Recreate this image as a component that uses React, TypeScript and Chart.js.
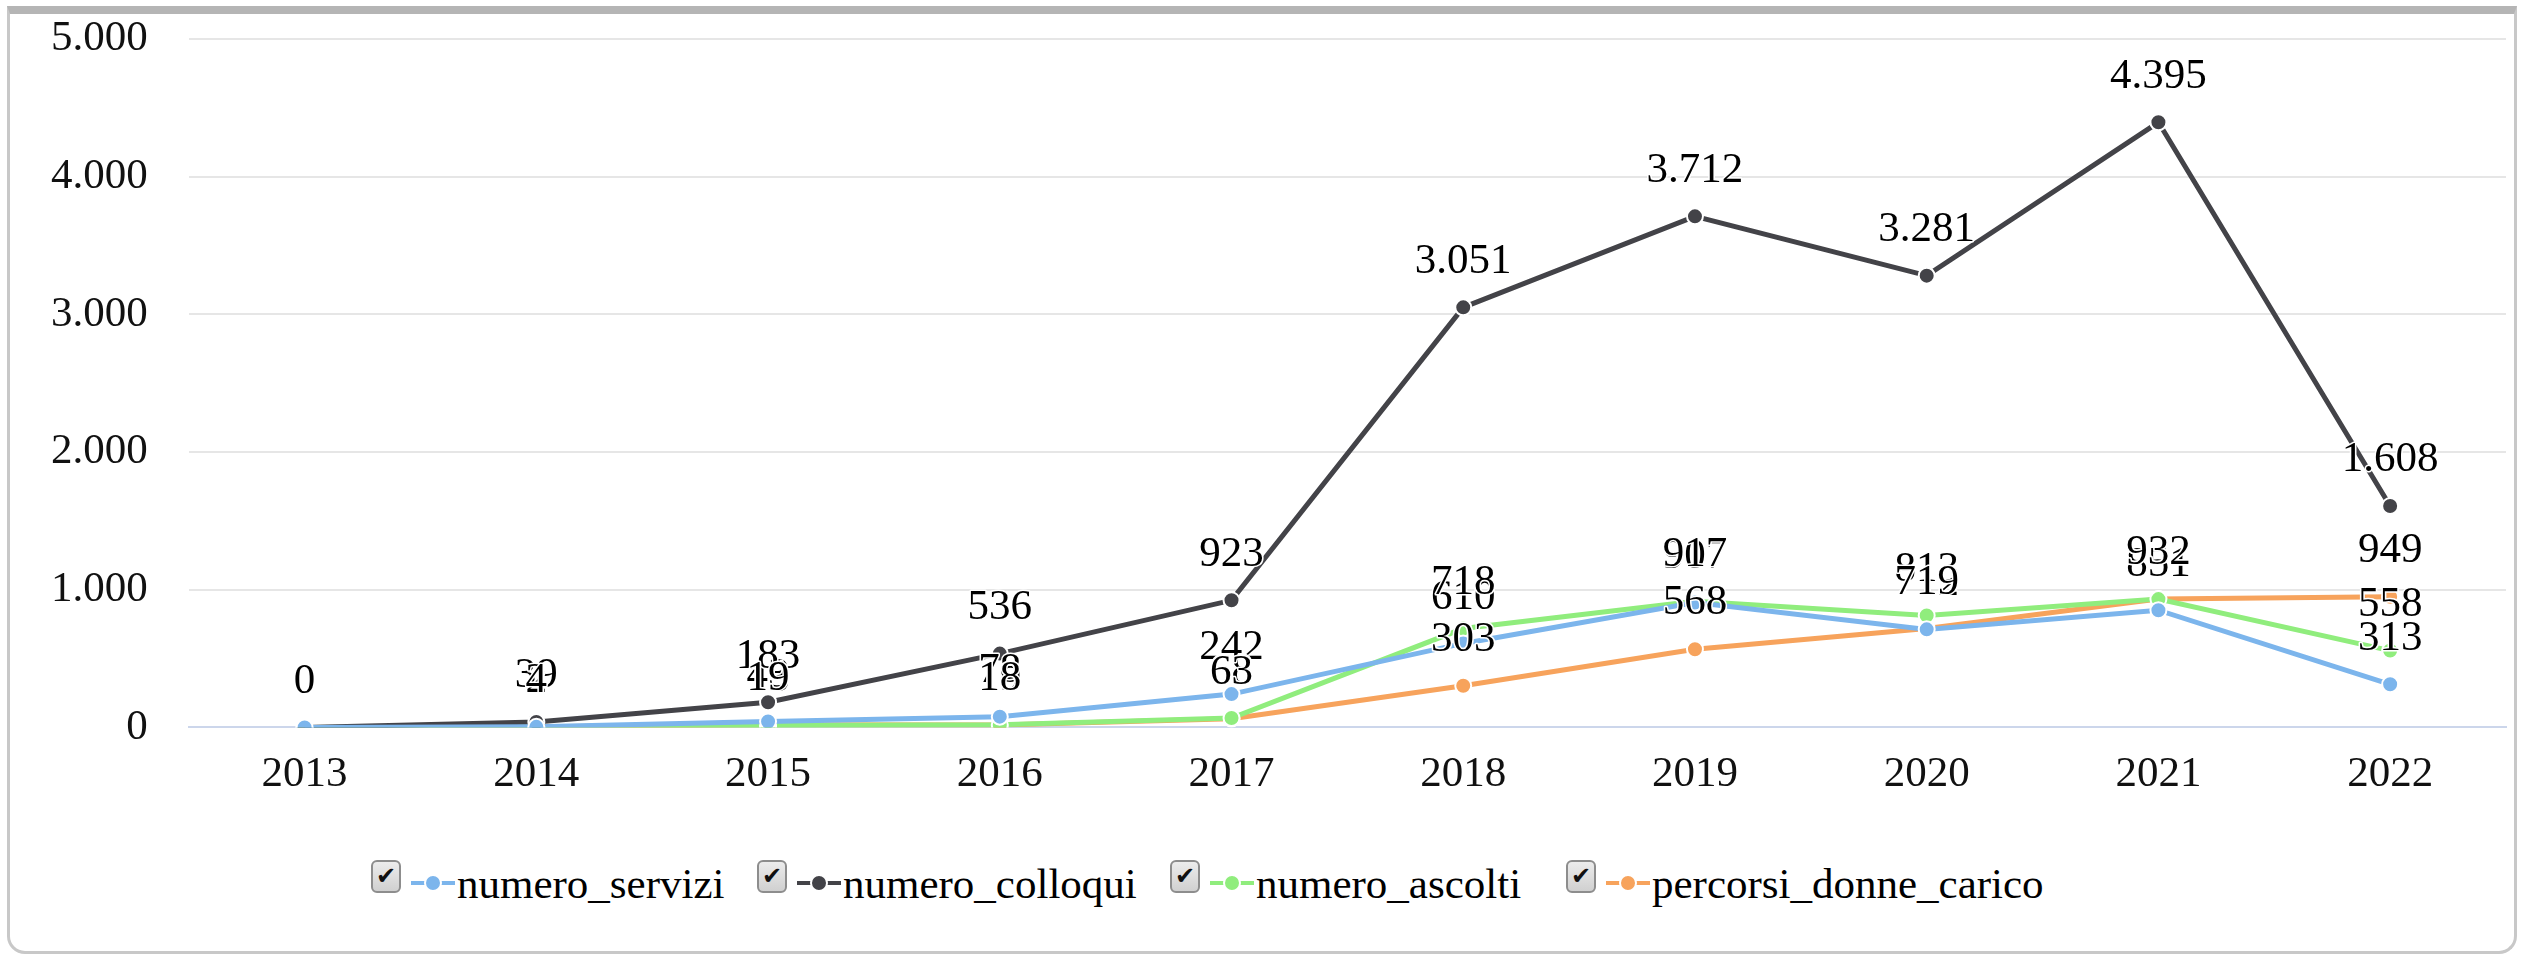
import React, { useEffect, useRef } from "react";
import { Chart, registerables } from "chart.js";

Chart.register(...registerables);

const years = ["2013", "2014", "2015", "2016", "2017", "2018", "2019", "2020", "2021", "2022"];
const numeroServizi = [0, 4, 43, 78, 242, 610, 907, 712, 851, 313];
const numeroColloqui = [0, 39, 183, 536, 923, 3051, 3712, 3281, 4395, 1608];
const numeroAscolti = [0, 2, 13, 19, 68, 718, 917, 813, 932, 558];
const percorsiDonneCarico = [0, 4, 19, 18, 63, 303, 568, 719, 932, 949];
const yTickValues = [0, 1000, 2000, 3000, 4000, 5000];
const seriesNames = ["numero_servizi", "numero_colloqui", "numero_ascolti", "percorsi_donne_carico"];
const seriesColors = ["#7cb5ec", "#434348", "#90ed7d", "#f7a35c"];
const seriesData = [numeroServizi, numeroColloqui, numeroAscolti, percorsiDonneCarico];

const FONT = "'Liberation Serif', 'Times New Roman', serif";

function fmt(v: number): string {
  return String(v).replace(/\B(?=(\d{3})+(?!\d))/g, ".");
}

const dataLabelPlugin = {
  id: "dataLabelsHC",
  afterDatasetsDraw(chart: any) {
    const ctx = chart.ctx;
    ctx.save();
    ctx.font = `43px ${FONT}`;
    ctx.textAlign = "center";
    ctx.textBaseline = "middle";
    ctx.lineJoin = "round";
    chart.data.datasets.forEach((ds: any, i: number) => {
      const meta = chart.getDatasetMeta(i);
      if (meta.hidden) return;
      meta.data.forEach((pt: any, j: number) => {
        const txt = fmt(ds.data[j]);
        const x = pt.x;
        const y = pt.y - 46;
        ctx.strokeStyle = "#ffffff";
        ctx.lineWidth = 3;
        ctx.strokeText(txt, x, y);
        ctx.fillStyle = "#000000";
        ctx.fillText(txt, x, y);
      });
    });
    ctx.restore();
  },
};

const legendLefts = [371, 757, 1170, 1566];

export default function App() {
  const canvasRef = useRef<HTMLCanvasElement | null>(null);

  useEffect(() => {
    if (!canvasRef.current) return;
    const chart = new Chart(canvasRef.current, {
      type: "line",
      data: {
        labels: years,
        datasets: seriesData.map((d, i) => ({
          label: seriesNames[i],
          data: d,
          borderColor: seriesColors[i],
          backgroundColor: seriesColors[i],
          borderWidth: 5,
          pointRadius: 8,
          pointBorderColor: "#ffffff",
          pointBorderWidth: 2,
          pointBackgroundColor: seriesColors[i],
          tension: 0,
          fill: false,
        })),
      },
      options: {
        responsive: false,
        animation: false,
        layout: { padding: { left: 51, right: 21, top: 39, bottom: 0 } },
        plugins: {
          legend: { display: false },
          tooltip: { enabled: false },
        },
        scales: {
          x: {
            offset: true,
            grid: { display: false, drawTicks: false },
            border: { display: true, color: "#ccd6eb", width: 2 },
            ticks: {
              padding: 22,
              color: "#111",
              font: { family: FONT, size: 43 },
              maxRotation: 0,
            },
          },
          y: {
            min: 0,
            max: 5000,
            afterBuildTicks: (axis: any) => {
              axis.ticks = yTickValues.map((v) => ({ value: v }));
            },
            grid: { color: "#e6e6e6", lineWidth: 2, drawTicks: true, tickLength: 41, tickColor: "rgba(0,0,0,0)" },
            border: { display: false },
            ticks: {
              padding: 0,
              color: "#111",
              font: { family: FONT, size: 43 },
              callback: (v: any) => fmt(Number(v)),
            },
          },
        },
      },
      plugins: [dataLabelPlugin],
    });
    return () => chart.destroy();
  }, []);

  return (
    <div style={{ position: "absolute", left: 0, top: 0, width: 2527, height: 961, background: "#fff", overflow: "hidden" }}>
      <div
        style={{
          position: "absolute",
          left: 7,
          top: 6,
          width: 2510,
          height: 948,
          boxSizing: "border-box",
          border: "3px solid #c8c8c8",
          borderTop: "8px solid #b5b5b5",
          borderRadius: "0 0 18px 18px",
        }}
      />
      <canvas ref={canvasRef} width={2527} height={823} style={{ position: "absolute", left: 0, top: 0, width: 2527, height: 823 }} />
      {seriesNames.map((name, i) => (
        <div
          key={name}
          style={{
            position: "absolute",
            left: legendLefts[i],
            top: 856,
            height: 54,
            display: "flex",
            alignItems: "center",
            fontFamily: FONT,
            fontSize: 43,
            color: "#000",
            whiteSpace: "nowrap",
          }}
        >
          <span
            style={{
              display: "inline-flex",
              alignItems: "center",
              justifyContent: "center",
              width: 30,
              height: 33,
              boxSizing: "border-box",
              border: "2px solid #8d8d8d",
              borderRadius: 6,
              background: "linear-gradient(#ececec, #d0d0d0)",
              fontFamily: "'DejaVu Sans', sans-serif",
              fontSize: 24,
              lineHeight: "24px",
              color: "#111",
              marginTop: -14,
            }}
          >
            ✔
          </span>
          <span style={{ position: "relative", display: "inline-block", width: 44, height: 14, marginLeft: 10 }}>
            <span style={{ position: "absolute", left: 0, top: 5, width: 44, height: 4, background: seriesColors[i] }} />
            <span
              style={{
                position: "absolute",
                left: 13,
                top: -2,
                width: 14,
                height: 14,
                borderRadius: 9,
                background: seriesColors[i],
                border: "2px solid #fff",
              }}
            />
          </span>
          <span style={{ marginLeft: 2 }}>{name}</span>
        </div>
      ))}
    </div>
  );
}
